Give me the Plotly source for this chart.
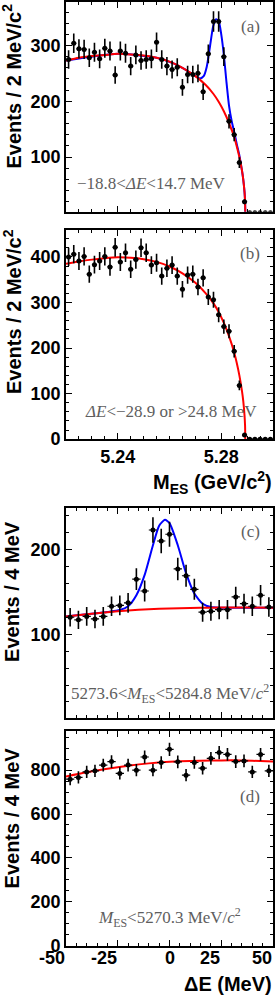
import numpy as np
import plotly.graph_objects as go

# ---------------- data ----------------
mes_centers = [5.221, 5.223, 5.225, 5.227, 5.229, 5.231, 5.233, 5.235, 5.237, 5.239,
               5.241, 5.243, 5.245, 5.247, 5.249, 5.251, 5.253, 5.255, 5.257, 5.259,
               5.261, 5.263, 5.265, 5.267, 5.269, 5.271, 5.273, 5.275, 5.277, 5.279,
               5.281, 5.283, 5.285, 5.287, 5.289, 5.291, 5.293, 5.295, 5.297, 5.299]
counts_a = [275, 304, 294, 293, 278, 288, 276, 295, 290, 247,
            290, 286, 263, 283, 273, 275, 276, 306, 275, 263,
            257, 261, 225, 248, 248, 250, 217, 285, 343, 343,
            280, 164, 140, 90, 20, 0, 0, 0, 0, 0]
counts_b = [400, 406, 391, 401, 362, 383, 391, 401, 378, 421,
            389, 409, 373, 394, 420, 409, 382, 387, 358, 375,
            382, 358, 329, 360, 362, 334, 354, 312, 306, 273,
            247, 237, 193, 118, 9, 0, 0, 0, 0, 0]

de_centers = [-48, -44, -40, -36, -32, -28, -24, -20, -16, -12, -8, -4, 0,
              4, 8, 12, 16, 20, 24, 28, 32, 36, 40, 44, 48]
counts_c = [120, 117, 121, 118, 121, 133, 134, 137, 165, 151, 223, 210, 218,
            177, 169, 153, 126, 127, 129, 129, 144, 136, 133, 146, 132]
counts_d = [759, 767, 792, 797, 823, 839, 785, 823, 800, 860, 800, 835, 895,
            838, 777, 835, 809, 854, 880, 872, 839, 842, 792, 872, 797]

# fitted curves
bkg_a_x = [5.220, 5.225, 5.230, 5.235, 5.240, 5.245, 5.250, 5.255, 5.260, 5.265,
           5.270, 5.274, 5.277, 5.279, 5.281, 5.283, 5.285, 5.286, 5.287, 5.288,
           5.2885, 5.289, 5.2892, 5.2893]
bkg_a_y = [273, 278, 281, 283, 285, 284, 282, 278, 271, 260,
           245, 229, 213, 199, 182, 161, 136, 119, 100, 76,
           60, 37, 21, 0]
tot_a_x = [5.220, 5.240, 5.255, 5.262, 5.266, 5.269, 5.2718, 5.2732, 5.2744, 5.2757,
           5.2769, 5.2780, 5.2790, 5.2800, 5.2810, 5.2820, 5.2830, 5.2840, 5.2850, 5.286,
           5.287, 5.288, 5.2885, 5.289, 5.2892, 5.2893]
tot_a_y = [273, 285, 278, 267, 257, 248, 241, 245, 262, 300,
           335, 347, 344, 320, 283, 235, 192, 165, 145, 123,
           103, 76, 60, 37, 21, 0]

bkg_b_x = [5.220, 5.225, 5.230, 5.235, 5.240, 5.245, 5.250, 5.255, 5.260, 5.265,
           5.270, 5.274, 5.277, 5.279, 5.281, 5.283, 5.285, 5.286, 5.287, 5.288,
           5.2885, 5.289, 5.2892, 5.2893]
bkg_b_y = [385, 390, 394, 397, 399, 398, 395, 389, 379, 364,
           343, 320, 298, 279, 255, 226, 190, 167, 140, 106,
           84, 52, 30, 0]

bkg_c_x = [-50, -40, -30, -20, -10, 0, 10, 20, 30, 40, 50]
bkg_c_y = [121, 123.5, 126, 128, 129.5, 130.3, 131, 131.3, 131.5, 131.5, 131.3]
tot_c_x = [-50, -30, -24, -20, -16, -12, -8, -5, -2.2, 0, 4, 8, 12, 16, 20, 25, 50]
tot_c_y = [121, 126.3, 128.5, 133, 146, 170, 205, 228, 235, 231, 205, 172, 148, 136, 132, 131.3, 131.3]

bkg_d_x = [-50, -40, -30, -20, -10, 0, 10, 20, 30, 40, 50]
bkg_d_y = [771, 790, 806, 820, 831, 838, 842, 844, 845, 843, 839]

de_tickvals = [-50, -25, 0, 25, 50]
de_ticktext = ["-50", "-25", "0", "25", "50"]
de_tickanchor = ["right", "right", "center", "right", "right"]

# ---------------- layout helpers ----------------
W, H = 275, 1005
X0, X1 = 66, 273
panels = {  # top, bottom pixel rows
    "a": (1, 213), "b": (232, 443), "c": (513, 725), "d": (738, 955)
}

def ydom(p):
    t, b = panels[p]
    return [1 - b / H, 1 - t / H]

fig = go.Figure()

RED = "#ff0000"
BLUE = "#0000ff"

def add_data(x, y, xerr, xa, ya):
    fig.add_trace(go.Scatter(
        x=x, y=y, mode="markers", xaxis=xa, yaxis=ya,
        marker=dict(color="black", size=5),
        error_y=dict(type="data", array=list(np.sqrt(np.array(y, dtype=float))),
                     color="black", thickness=1.6, width=0),
        error_x=dict(type="constant", value=xerr, color="black", thickness=1.2, width=0),
        showlegend=False, cliponaxis=True))

def add_curve(x, y, color, xa, ya):
    fig.add_trace(go.Scatter(
        x=x, y=y, mode="lines", xaxis=xa, yaxis=ya,
        line=dict(color=color, width=2, shape="spline", smoothing=0.6),
        showlegend=False, hoverinfo="skip"))

# panel a
add_curve(tot_a_x, tot_a_y, BLUE, "x", "y")
add_curve(bkg_a_x, bkg_a_y, RED, "x", "y")
add_data(mes_centers, counts_a, 0.001, "x", "y")
# panel b
add_curve(bkg_b_x, bkg_b_y, RED, "x2", "y2")
add_data(mes_centers, counts_b, 0.001, "x2", "y2")
# panel c
add_curve(tot_c_x, tot_c_y, BLUE, "x3", "y3")
add_curve(bkg_c_x, bkg_c_y, RED, "x3", "y3")
add_data(de_centers, counts_c, 2, "x3", "y3")
# panel d
add_curve(bkg_d_x, bkg_d_y, RED, "x4", "y4")
add_data(de_centers, counts_d, 2, "x4", "y4")

tickfont = dict(family="Liberation Sans", size=18, color="black", weight="bold")

def xaxis_cfg(rng, tick0, dtick, mdtick, mtick0, anchor, labels):
    return dict(domain=[X0 / W, X1 / W], range=rng, anchor=anchor,
                tickmode="linear", tick0=tick0, dtick=dtick,
                ticks="inside", ticklen=6, tickwidth=1.2, tickcolor="black",
                minor=dict(ticks="inside", ticklen=3, tickwidth=1.2, tickcolor="black",
                           dtick=mdtick, tick0=mtick0),
                showline=True, linecolor="black", linewidth=1.6, mirror="allticks",
                showgrid=False, zeroline=False, showticklabels=labels,
                tickfont=tickfont)

def yaxis_cfg(p, rng, dtick, mdtick, anchor):
    return dict(domain=ydom(p), range=rng, anchor=anchor,
                tickmode="linear", tick0=0, dtick=dtick,
                ticks="inside", ticklen=6, tickwidth=1.2, tickcolor="black",
                minor=dict(ticks="inside", ticklen=3, tickwidth=1.2, tickcolor="black",
                           dtick=mdtick, tick0=0),
                showline=True, linecolor="black", linewidth=1.6, mirror="allticks",
                showgrid=False, zeroline=False, tickfont=tickfont)

fig.update_layout(
    width=W, height=H, margin=dict(l=0, r=0, t=0, b=0),
    paper_bgcolor="white", plot_bgcolor="white",
    xaxis=xaxis_cfg([5.22, 5.30], 5.24, 0.04, 0.005, 5.22, "y", False),
    xaxis2=xaxis_cfg([5.22, 5.30], 5.24, 0.04, 0.005, 5.22, "y2", True),
    xaxis3=xaxis_cfg([-50, 50], -50, 25, 5, -50, "y3", False),
    xaxis4=xaxis_cfg([-50, 50], -50, 25, 5, -50, "y4", False),
    yaxis=yaxis_cfg("a", [2, 378], 100, 20, "x"),
    yaxis2=yaxis_cfg("b", [0, 458], 100, 20, "x2"),
    yaxis3=yaxis_cfg("c", [1, 248.5], 100, 20, "x3"),
    yaxis4=yaxis_cfg("d", [0, 979], 200, 50, "x4"),
)

def px(x):
    return x / W

def py(y):
    return 1 - y / H

title_font = dict(family="Liberation Sans", size=20, color="black", weight="bold")
gray_font = dict(family="Liberation Serif", size=17, color="#5e5e5e")

annots = []
# ΔE tick labels (placed on the x4 axis scale, ROOT-style alignment)
for v, t, anc in zip(de_tickvals, de_ticktext, de_tickanchor):
    annots.append(dict(text=t, x=v, y=py(968), xref="x4", yref="paper",
                       showarrow=False, font=tickfont, xanchor=anc, yanchor="middle",
                       xshift=(1 if anc == "right" else 0)))
# y titles
for text, yc in [("Events / 2 MeV/c<sup>2</sup>", 86.5), ("Events / 2 MeV/c<sup>2</sup>", 314.5),
                 ("Events / 4 MeV", 597.5), ("Events / 4 MeV", 826.5)]:
    annots.append(dict(text=text, x=px(12), y=py(yc), xref="paper", yref="paper",
                       textangle=-90, showarrow=False, font=title_font,
                       xanchor="center", yanchor="middle"))
# x titles
annots.append(dict(text="M<sub>ES</sub> (GeV/c<sup>2</sup>)", x=px(274), y=py(487),
                   xref="paper", yref="paper", showarrow=False, font=title_font,
                   xanchor="right", yanchor="middle"))
annots.append(dict(text="ΔE (MeV)", x=px(274), y=py(994), xref="paper", yref="paper",
                   showarrow=False, font=title_font, xanchor="right", yanchor="middle"))
# panel letters
for t, yc in [("(a)", 26), ("(b)", 255), ("(c)", 536), ("(d)", 804)]:
    annots.append(dict(text=t, x=px(250), y=py(yc), xref="paper", yref="paper",
                       showarrow=False, font=gray_font, xanchor="center", yanchor="middle"))
# selection labels
sel = [
    ("−18.8&lt;<i>ΔE</i>&lt;14.7 MeV", 151, 185),
    ("<i>ΔE</i>&lt;−28.9 or &gt;24.8 MeV", 170.5, 415),
    ("5273.6&lt;<i>M</i><sub>ES</sub>&lt;5284.8 MeV/<i>c</i><sup>2</sup>", 170, 700),
    ("<i>M</i><sub>ES</sub>&lt;5270.3 MeV/<i>c</i><sup>2</sup>", 169.5, 927),
]
for t, xc, yc in sel:
    annots.append(dict(text=t, x=px(xc), y=py(yc), xref="paper", yref="paper",
                       showarrow=False, font=gray_font, xanchor="center", yanchor="middle"))

fig.update_layout(annotations=annots)
fig.write_html(
    "out.html",
    config={"displayModeBar": False},
    post_script="document.body.style.margin='0';document.body.style.overflow='hidden';"
                "document.documentElement.style.overflow='hidden';",
)
